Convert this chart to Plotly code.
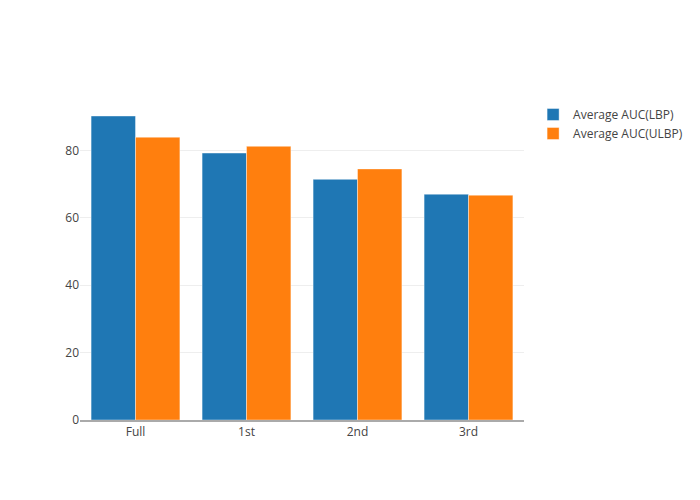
import plotly.graph_objects as go

categories = ["Full", "1st", "2nd", "3rd"]
lbp_values = [90.2, 79.2, 71.4, 67.0]
ulbp_values = [83.9, 81.2, 74.5, 66.7]

fig = go.Figure()
fig.add_trace(go.Bar(x=categories, y=lbp_values, name="Average AUC(LBP)",
                     marker=dict(color="#1f77b4", line=dict(color="rgba(255,255,255,0.4)", width=1))))
fig.add_trace(go.Bar(x=categories, y=ulbp_values, name="Average AUC(ULBP)",
                     marker=dict(color="#ff7f0e", line=dict(color="rgba(255,255,255,0.4)", width=1))))

fig.update_layout(
    width=700, height=500,
    template="none",
    font=dict(family="Open Sans", size=12, color="#444"),
    plot_bgcolor="white", paper_bgcolor="white",
    margin=dict(l=72, r=184, t=92, b=88, autoexpand=False),
    barmode="group",
    legend=dict(font=dict(size=12), x=1.0205, y=1),
    xaxis=dict(showline=True, linecolor="#aaa", linewidth=2, showgrid=False, ticks="", zeroline=False),
    yaxis=dict(showgrid=True, gridcolor="#eee", zeroline=False, ticks="", showline=False),
)

fig.write_html("out.html")
